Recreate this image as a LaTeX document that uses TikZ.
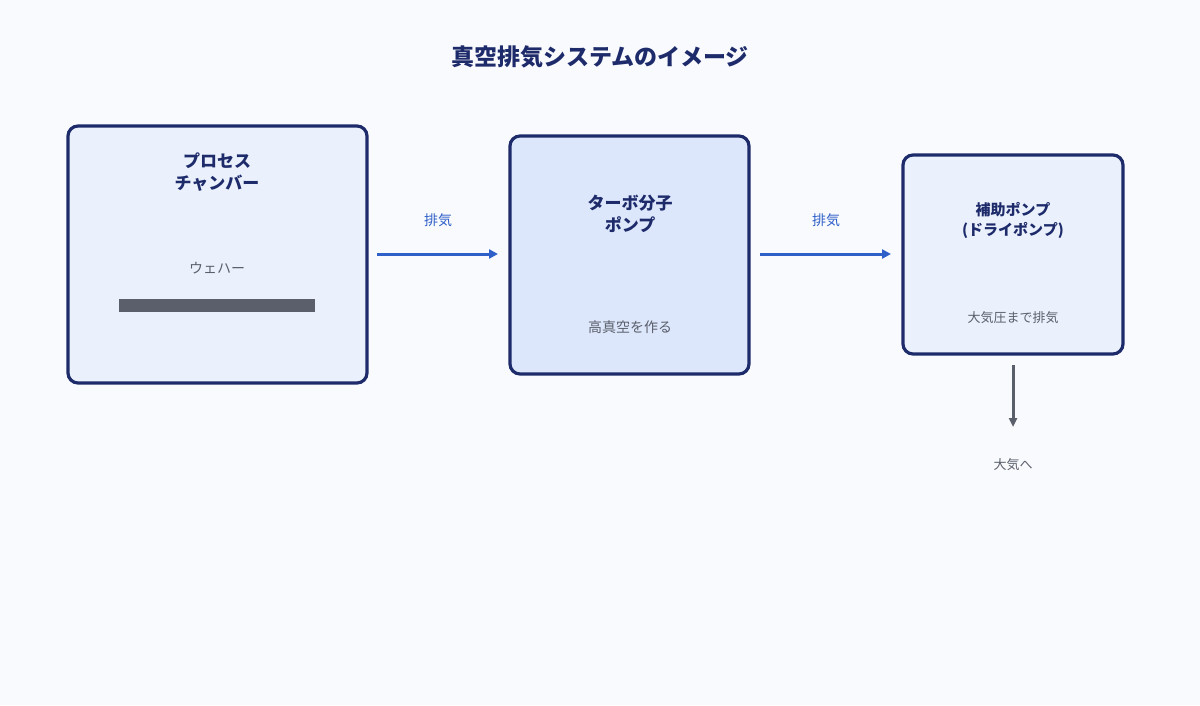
\documentclass[tikz,border=0pt]{standalone}
\usepackage{fontspec}
\setmainfont{Noto Sans CJK JP}
\usetikzlibrary{arrows.meta}
\definecolor{bg}{HTML}{F8FAFD}
\definecolor{navy}{HTML}{1E2B6B}
\definecolor{boxfill}{HTML}{EAF1FC}
\definecolor{boxfillb}{HTML}{DCE7FB}
\definecolor{flowblue}{HTML}{2F5FC8}
\definecolor{graytext}{HTML}{5A5F6B}
\definecolor{wafer}{HTML}{5A5F6B}
\tikzset{
  unitbox/.style={draw=navy, line width=3.2pt, rounded corners=10pt, fill=boxfill},
  titletext/.style={font=\fontsize{17}{22}\selectfont\bfseries, text=navy, align=center},
  subtext/.style={font=\fontsize{14}{17}\selectfont, text=graytext, align=center},
  flow/.style={draw=flowblue, line width=3pt, -{Triangle[length=9pt,width=9pt]}},
  flowlabel/.style={font=\fontsize{14}{17}\selectfont, text=flowblue},
  outflow/.style={draw=graytext, line width=3pt, -{Triangle[length=9pt,width=8pt]}}
}
\begin{document}
\begin{tikzpicture}[x=1pt,y=-1pt]
\fill[bg] (0,0) rectangle (1200,705);
\useasboundingbox (0,0) rectangle (1200,705);
\node[font=\fontsize{23}{27}\selectfont\bfseries, text=navy] (title) at (600,57) {真空排気システムのイメージ};
% chamber
\draw[unitbox] (68,126) rectangle (367,383);
\node[titletext] (chamber) at (217,172) {プロセス\\チャンバー};
\node[subtext] (waferlbl) at (217,268) {ウェハー};
\fill[wafer] (119,299) rectangle (315,312);
\coordinate (chR) at (377,254);
% turbo
\draw[unitbox, fill=boxfillb] (510,136) rectangle (749,374);
\node[titletext] (turbo) at (630,214) {ターボ分子\\ポンプ};
\node[subtext] (turbosub) at (630,327) {高真空を作る};
\coordinate (tbL) at (498,254);
\coordinate (tbR) at (760,254);
% aux
\draw[unitbox] (903,155) rectangle (1123,354);
\node[titletext, font=\fontsize{15}{20}\selectfont\bfseries] (aux) at (1013,220) {補助ポンプ\\(ドライポンプ)};
\node[subtext, font=\fontsize{13}{16}\selectfont] (auxsub) at (1013,318) {大気圧まで排気};
\coordinate (axL) at (891,254);
\coordinate (axB) at (1013,365);
\coordinate (atm) at (1013,427);
\node[subtext, font=\fontsize{13}{16}\selectfont] (atmlbl) at (1013,465) {大気へ};
% arrows
\draw[flow] (chR) -- (tbL);
\node[flowlabel] (ex1) at (438,220) {排気};
\draw[flow] (tbR) -- (axL);
\node[flowlabel] (ex2) at (826,220) {排気};
\draw[outflow] (axB) -- (atm);
\end{tikzpicture}
\end{document}
